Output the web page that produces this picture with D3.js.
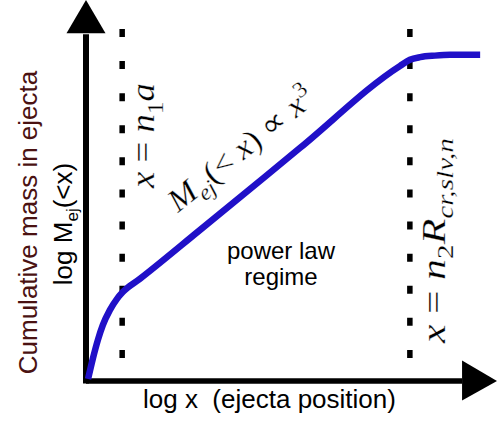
<!DOCTYPE html>
<html>
<head>
<meta charset="utf-8">
<script src="https://cdn.jsdelivr.net/npm/d3@7"></script>
<style>
  html, body { margin: 0; padding: 0; background: #fff; }
  svg { display: block; }
</style>
</head>
<body>
<div id="chart"></div>
<script>
// ---- data (log x, log M in arbitrary units) ----
const curveX = [0.05, 0.17, 0.29, 0.41, 0.58, 0.75, 0.90, 1.31, 2.77, 5.21, 7.64, 7.88, 8.13, 8.49, 8.86, 9.59];
const curveY = [0.05, 0.60, 1.08, 1.47, 1.86, 2.15, 2.34, 2.68, 3.96, 6.12, 8.27, 8.43, 8.50, 8.54, 8.56, 8.56];
const guideX = [0.88, 7.88];          // x = n1 a , x = n2 R_cr,slv,n
const guideRange = [0.60, 9.24];      // vertical extent of dashed guides
const xDomain = [0, 10];
const yDomain = [0, 10];

const W = 503, H = 421;
const svg = d3.select("#chart").append("svg").attr("width", W).attr("height", H);

const x = d3.scaleLinear().domain(xDomain).range([86, 497]);
const y = d3.scaleLinear().domain(yDomain).range([381, 0]);

// dashed guides
svg.selectAll("line.guide").data(guideX).enter().append("line")
  .attr("class", "guide")
  .attr("x1", d => x(d)).attr("x2", d => x(d))
  .attr("y1", y(guideRange[1])).attr("y2", y(guideRange[0]))
  .attr("stroke", "#000").attr("stroke-width", 5.5)
  .attr("stroke-dasharray", "8 24.1");

// axes (arrows)
const x0 = x(xDomain[0]), y0 = y(yDomain[0]);
svg.append("line").attr("x1", x0).attr("x2", x(9.15)).attr("y1", y0).attr("y2", y0)
  .attr("stroke", "#000").attr("stroke-width", 5.5);
svg.append("line").attr("x1", x0).attr("x2", x0).attr("y1", y0 + 2.5).attr("y2", y(9.1))
  .attr("stroke", "#000").attr("stroke-width", 6);
svg.append("path")
  .attr("d", `M${x(xDomain[1])},${y0} L${x(9.15)},${y0 - 20.5} L${x(9.15)},${y0 + 19.5} Z`)
  .attr("fill", "#000");
svg.append("path")
  .attr("d", `M${x0},${y(yDomain[1])} L${x0 - 19.5},${y(9.13)} L${x0 + 19.5},${y(9.13)} Z`)
  .attr("fill", "#000");

// curve
const pts = curveX.map((v, i) => [v, curveY[i]]);
svg.append("path")
  .datum(pts)
  .attr("d", d3.line().x(d => x(d[0])).y(d => y(d[1])).curve(d3.curveMonotoneX))
  .attr("fill", "none")
  .attr("stroke", "#2010c8")
  .attr("stroke-width", 6.5)
  .attr("stroke-linecap", "butt");

// sans labels
const sans = "'Liberation Sans', Arial, Helvetica, sans-serif";
const serif = "'Liberation Serif', 'Times New Roman', serif";

svg.append("text")
  .attr("transform", "translate(37,222.5) rotate(-90)")
  .attr("text-anchor", "middle")
  .attr("font-family", sans).attr("font-size", 26)
  .attr("fill", "#4a1212")
  .text("Cumulative mass in ejecta");

const yl = svg.append("text")
  .attr("transform", "translate(72,224) rotate(-90)")
  .attr("text-anchor", "middle")
  .attr("font-family", sans).attr("font-size", 26)
  .attr("fill", "#000");
yl.append("tspan").text("log M");
yl.append("tspan").attr("font-size", 17).attr("dy", 6).text("ej");
yl.append("tspan").attr("dy", -6).text("(<x)");

svg.append("text")
  .attr("x", 143).attr("y", 408)
  .attr("font-family", sans).attr("font-size", 26)
  .attr("fill", "#000")
  .attr("xml:space", "preserve")
  .style("white-space", "pre")
  .text("log x  (ejecta position)");

svg.append("text")
  .attr("x", 281).attr("y", 259)
  .attr("text-anchor", "middle")
  .attr("font-family", sans).attr("font-size", 24)
  .text("power law");
svg.append("text")
  .attr("x", 281).attr("y", 285)
  .attr("text-anchor", "middle")
  .attr("font-family", sans).attr("font-size", 24)
  .text("regime");

// math labels
function mathLabel(transform, parts, size, len, adjust, anchor) {
  const t = svg.append("text")
    .attr("transform", transform)
    .attr("text-anchor", anchor)
    .attr("font-family", serif).attr("font-size", size)
    .attr("fill", "#000")
    .attr("stroke", "#fff").attr("stroke-width", 0.25)
    .attr("xml:space", "preserve")
    .style("white-space", "pre");
  if (len) t.attr("textLength", len).attr("lengthAdjust", adjust);
  let shift = 0;
  parts.forEach(p => {
    const s = t.append("tspan").text(p.t);
    if (p.i) s.attr("font-style", "italic");
    const target = p.sub ? size * 0.25 : p.sup ? -size * 0.4 : 0;
    if (target !== shift) { s.attr("dy", target - shift); shift = target; }
    if (p.sub || p.sup) s.attr("font-size", size * 0.7);
  });
  return t;
}

mathLabel(`translate(${x(guideX[0]) + 32},135.5) rotate(-90)`, [
  {t: "x", i: true}, {t: " = "}, {t: "n", i: true}, {t: "1", sub: true}, {t: "a", i: true}
], 34, 105, "spacingAndGlyphs", "middle");

mathLabel(`translate(${x(guideX[1]) + 35},240.5) rotate(-90)`, [
  {t: "x", i: true}, {t: " = "}, {t: "n", i: true}, {t: "2", sub: true}, {t: "R", i: true}, {t: "cr,slv,n", i: true, sub: true}
], 34, 205, "spacingAndGlyphs", "middle");

mathLabel("translate(178,213) rotate(-38.7)", [
  {t: "M", i: true}, {t: "ej", i: true, sub: true}, {t: "(< "}, {t: "x", i: true}, {t: ") ∝ "}, {t: "x", i: true}, {t: "3", sup: true}
], 32, 178, "spacingAndGlyphs", "start");
</script>
</body>
</html>
